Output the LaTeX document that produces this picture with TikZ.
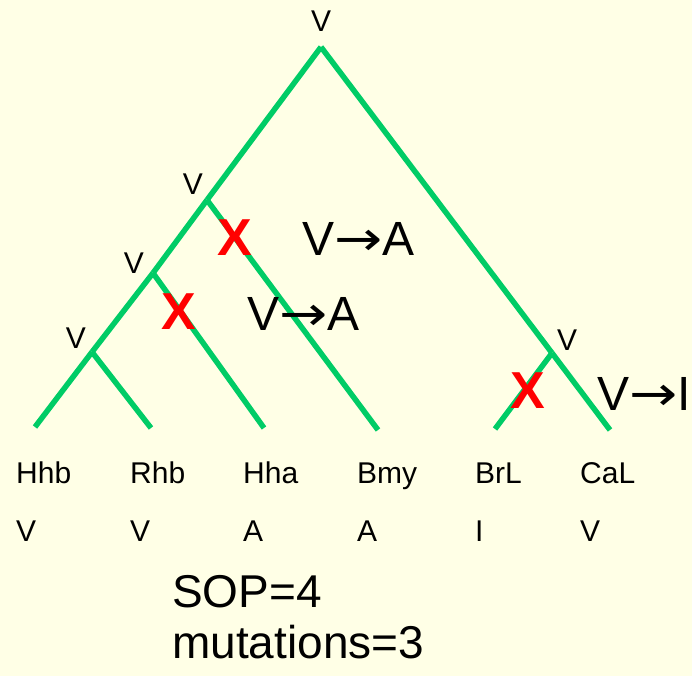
\documentclass[tikz,border=0pt]{standalone}
\usepackage{fontspec}
\usepackage{graphicx}
\setmainfont{Liberation Sans}
\newfontfamily\arrowfont{DejaVu Sans}
\newcommand{\mutarrow}{\scalebox{1.2}[1]{\arrowfont →}}
\definecolor{treegreen}{RGB}{0,204,102}
\definecolor{paper}{RGB}{255,255,230}
\definecolor{mutred}{RGB}{255,0,0}

\begin{document}
\begin{tikzpicture}[x=1pt, y=-1pt]

      \tikzstyle{branch} = [draw=treegreen, line width=5.5pt, line cap=butt]
      \tikzstyle{state} = [inner sep=0pt, font=\fontsize{30}{36}\selectfont]
      \tikzstyle{taxon} = [inner sep=0pt, anchor=base west, font=\fontsize{30}{36}\selectfont]
      \tikzstyle{change} = [inner sep=0pt, anchor=base west, font=\fontsize{48}{56}\selectfont]
      \tikzstyle{cross} = [inner sep=0pt, text=mutred, font=\fontsize{52}{56}\selectfont\bfseries]
      \tikzstyle{score} = [inner sep=0pt, anchor=base west, font=\fontsize{46}{51}\selectfont]

      \fill[paper] (0,0) rectangle (692,676);
      \useasboundingbox (0,0) rectangle (692,676);

      % internal nodes and leaf tips
      \coordinate (root) at (321,47);
      \coordinate (n2) at (207,200);
      \coordinate (n3) at (153,273);
      \coordinate (n4) at (92,352);
      \coordinate (n5) at (552,353);
      \coordinate (hhb) at (35,427);
      \coordinate (rhb) at (151,428);
      \coordinate (hha) at (264,428);
      \coordinate (bmy) at (378,430);
      \coordinate (brl) at (495,429);
      \coordinate (cal) at (610,430);

      \begin{scope}[branch]
        \draw (root) -- (n2);
        \draw (n2) -- (n3);
        \draw (n3) -- (n4);
        \draw (n4) -- (hhb);
        \draw (n4) -- (rhb);
        \draw (n3) -- (hha);
        \draw (n2) -- (bmy);
        \draw (root) -- (n5);
        \draw (n5) -- (brl);
        \draw (n5) -- (cal);
      \end{scope}

      % ancestral states
      \draw
        (321,21) node[state] (sroot){V}
        (193,184) node[state] (s2){V}
        (134,263) node[state] (s3){V}
        (76,338) node[state] (s4){V}
        (567,340) node[state] (s5){V};

      % mutations on the branches
      \draw
        (235,238) node[cross] (x1){X}
        (179,312) node[cross] (x2){X}
        (528,391) node[cross] (x3){X}
        (302,255) node[change] (c1){V\mutarrow A}
        (247,330) node[change] (c2){V\mutarrow A}
        (597,410) node[change] (c3){V\mutarrow I};

      % taxa and observed states
      \draw
        (16,483) node[taxon] (t1){Hhb}
        (130,483) node[taxon] (t2){Rhb}
        (243,483) node[taxon] (t3){Hha}
        (357,483) node[taxon] (t4){Bmy}
        (475,483) node[taxon] (t5){BrL}
        (580,483) node[taxon] (t6){CaL}
        (16,541) node[taxon] (v1){V}
        (130,541) node[taxon] (v2){V}
        (243,541) node[taxon] (v3){A}
        (357,541) node[taxon] (v4){A}
        (475,541) node[taxon] (v5){I}
        (580,541) node[taxon] (v6){V};

      \node[score] (sop) at (172,607) {SOP=4};
      \node[score] (muts) at (172,658) {mutations=3};
    \end{tikzpicture}
\end{document}
